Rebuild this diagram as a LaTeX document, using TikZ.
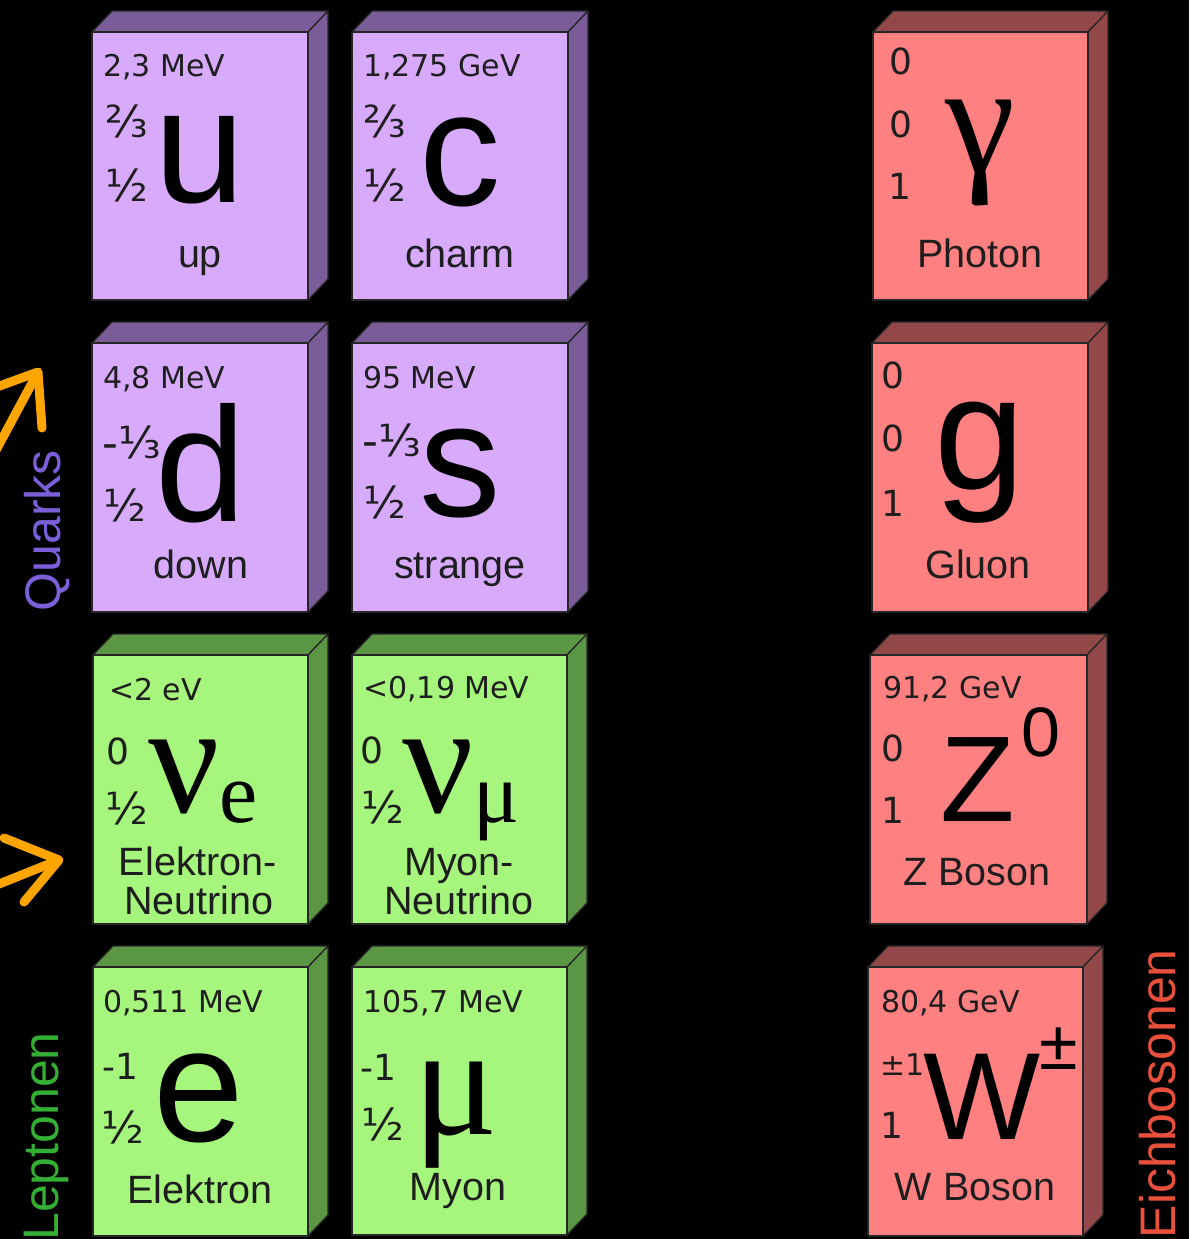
\documentclass[tikz,border=0pt]{standalone}
\usepackage{fontspec}
\usetikzlibrary{calc}
\setmainfont{Liberation Sans}
\newfontfamily\dvs{DejaVu Sans}
\newfontfamily\lserif{Liberation Serif}
\definecolor{qfront}{HTML}{D8AAFC}
\definecolor{qdark}{HTML}{7A5C99}
\definecolor{lfront}{HTML}{A6F57C}
\definecolor{ldark}{HTML}{5B9644}
\definecolor{bfront}{HTML}{FF8080}
\definecolor{bdark}{HTML}{924848}
\definecolor{qlabel}{HTML}{7B5FD9}
\definecolor{llabel}{HTML}{33B033}
\definecolor{blabel}{HTML}{E8503C}
\definecolor{arr}{HTML}{FFA500}
\definecolor{ink}{HTML}{1E1E1E}
\newcommand{\ptbox}[6]{%
  \filldraw[fill=#6, boxline] (#1,#2) -- ++(20,-21) -- ++(#3,0) -- ++(-20,21) -- cycle;
  \filldraw[fill=#6, boxline] (#1+#3,#2) -- ++(20,-21) -- ++(0,#4) -- ++(-20,21) -- cycle;
  \filldraw[fill=#5, boxline] (#1,#2) rectangle ++(#3,#4);
}
\begin{document}
\begin{tikzpicture}[x=1pt,y=-1pt,
  boxline/.style={draw=black!85, line width=1.3pt, line join=round},
  tmass/.style={font=\dvs\fontsize{30}{30}\selectfont, anchor=base west, inner sep=0, text=ink},
  tnum/.style={font=\dvs\fontsize{36}{36}\selectfont, inner sep=0, text=ink},
  tfrac/.style={font=\dvs\fontsize{44}{44}\selectfont, inner sep=0, text=ink},
  tbig/.style={font=\fontsize{163}{163}\selectfont, inner sep=0, text=black},
  tcap/.style={font=\fontsize{122}{122}\selectfont, inner sep=0, text=black},
  tgreek/.style={font=\lserif\fontsize{158}{158}\selectfont, inner sep=0, text=black},
  tsub/.style={font=\lserif\fontsize{86}{86}\selectfont, inner sep=0, text=black},
  tname/.style={font=\fontsize{39.5}{39.5}\selectfont, anchor=base, inner sep=0, text=ink},
  side/.style={rotate=90, anchor=base east, inner sep=0, font=\fontsize{50}{50}\selectfont},
  arrowline/.style={draw=arr, line width=9pt, line cap=round, line join=round}]
\fill[black] (0,0) rectangle (1189,1239);
\useasboundingbox (0,0) rectangle (1189,1239);

% boxes
\ptbox{92}{32}{216}{268}{qfront}{qdark}
\ptbox{352}{32}{216}{268}{qfront}{qdark}
\ptbox{873}{32}{215}{268}{bfront}{bdark}
\ptbox{92}{343}{216}{269}{qfront}{qdark}
\ptbox{352}{343}{216}{269}{qfront}{qdark}
\ptbox{872}{343}{216}{269}{bfront}{bdark}
\ptbox{93}{655}{215}{269}{lfront}{ldark}
\ptbox{352}{655}{215}{269}{lfront}{ldark}
\ptbox{870}{655}{217}{269}{bfront}{bdark}
\ptbox{93}{967}{215}{269}{lfront}{ldark}
\ptbox{352}{967}{215}{268}{lfront}{ldark}
\ptbox{868}{967}{215}{269}{bfront}{bdark}

% up
\node[tmass] (um) at (103,77) {2,3 MeV};
\node[tfrac] (uq) at (127,121) {⅔};
\node[tfrac] (us) at (127,185) {½};
\node[tbig] (ul) at (200,160) {u};
\node[tname] (un) at (200,267) {up};
% charm
\node[tmass] (cm) at (363,76) {1,275 GeV};
\node[tfrac] (cq) at (385,121) {⅔};
\node[tfrac] (cs) at (385,185) {½};
\node[tbig] (cl) at (460,162) {c};
\node[tname] (cn) at (460,267) {charm};
% down
\node[tmass] (dm) at (103,388) {4,8 MeV};
\node[tfrac, anchor=west] (dq) at (102,442) {-⅓};
\node[tfrac] (ds) at (125,505) {½};
\node[tbig] (dl) at (201,463) {d};
\node[tname] (dn) at (201,578) {down};
% strange
\node[tmass] (sm) at (363,388) {95 MeV};
\node[tfrac, anchor=west] (sq) at (362,440) {-⅓};
\node[tfrac] (ss) at (385,502) {½};
\node[tbig] (sl) at (460,474) {s};
\node[tname] (sn) at (460,578) {strange};
% electron neutrino
\node[tmass] (nem) at (109,700) {<2 eV};
\node[tnum] (neq) at (118,751) {0};
\node[tfrac] (nes) at (127,808) {½};
\node[tgreek] (nel) at (184,777) {ν};
\node[tsub] (nee) at (239,803) {e};
\node[tname] (nen1) at (198,875) {Elektron-};
\node[tname] (nen2) at (199,914) {Neutrino};
% muon neutrino
\node[tmass] (nmm) at (363,698) {<0,19 MeV};
\node[tnum] (nmq) at (372,750) {0};
\node[tfrac] (nms) at (383,807) {½};
\node[tgreek] (nml) at (438,777) {ν};
\node[tsub] (nmu) at (497,812) {μ};
\node[tname] (nmn1) at (459,875) {Myon-};
\node[tname] (nmn2) at (459,914) {Neutrino};
% electron
\node[tmass] (em) at (103,1012) {0,511 MeV};
\node[tnum] (eq) at (120,1066) {-1};
\node[tfrac] (es) at (123,1127) {½};
\node[tbig] (el) at (199,1098) {e};
\node[tname] (en) at (200,1203) {Elektron};
% muon
\node[tmass] (mm) at (363,1012) {105,7 MeV};
\node[tnum] (mq) at (378,1067) {-1};
\node[tfrac] (ms) at (383,1124) {½};
\node[tgreek] (ml) at (456,1115) {μ};
\node[tname] (mn) at (458,1200) {Myon};
% photon
\node[tnum] (pm) at (901,61) {0};
\node[tnum] (pq) at (901,124) {0};
\node[tnum] (ps) at (900,186) {1};
\node[tgreek] (pl) at (980,153) {γ};
\node[tname] (pn) at (980,267) {Photon};
% gluon
\node[tnum] (gm) at (893,375) {0};
\node[tnum] (gq) at (893,438) {0};
\node[tnum] (gs) at (893,503) {1};
\node[tbig] (gl) at (980,463) {g};
\node[tname] (gn) at (978,578) {Gluon};
% Z boson
\node[tmass] (zm) at (883,698) {91,2 GeV};
\node[tnum] (zq) at (893,748) {0};
\node[tnum] (zs) at (893,810) {1};
\node[tcap] (zl) at (978,780) {Z};
\node[inner sep=0, font=\fontsize{70}{70}\selectfont] (zsup) at (1041,732) {0};
\node[tname] (zn) at (977,885) {Z Boson};
% W boson
\node[tmass] (wm) at (881,1012) {80,4 GeV};
\node[tnum, anchor=west, font=\dvs\fontsize{30}{30}\selectfont] (wq) at (880,1065) {±1};
\node[tnum] (ws) at (892,1125) {1};
\node[tcap, font=\fontsize{124}{124}\selectfont] (wl) at (982,1097) {W};
\node[inner sep=0, font=\fontsize{70}{70}\selectfont] (wsup) at (1059,1049) {±};
\node[tname] (wn) at (975,1200) {W Boson};

% side labels
\node[side, text=qlabel] (quarks) at (60,450) {Quarks};
\node[side, text=llabel] (leptonen) at (58,1032) {Leptonen};
\node[side, text=blabel] (eich) at (1175,949) {Eichbosonen};

% orange arrows (cut off at the left edge)
\coordinate (a1s) at (-6,454);
\coordinate (a1t) at (38,372);
\coordinate (a1l) at (-6,388);
\coordinate (a1r) at (42,428);
\draw[arrowline] (a1s) -- ($(a1t)!0.12!(a1s)$);
\draw[arrowline] (a1l) -- (a1t) -- (a1r);
\coordinate (a2s) at (-6,886);
\coordinate (a2t) at (59,860);
\coordinate (a2u) at (4,838);
\coordinate (a2d) at (24,902);
\draw[arrowline] (a2s) -- ($(a2t)!0.12!(a2s)$);
\draw[arrowline] (a2u) -- (a2t) -- (a2d);
\end{tikzpicture}
\end{document}
